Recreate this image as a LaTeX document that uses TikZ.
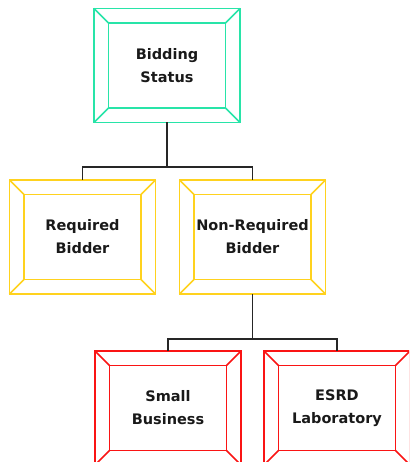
\documentclass[tikz,border=0pt]{standalone}
\usepackage{fontspec}
\setmainfont{DejaVu Sans}
\begin{document}
\begin{tikzpicture}[x=1pt,y=-1pt,
  bx/.style={draw, line width=1.5pt, minimum width=146pt, minimum height=114pt,
    inner sep=0pt, outer sep=0pt, align=center,
    font=\bfseries\fontsize{14.5}{23}\selectfont, text=black!90},
  bl/.style={line width=1.5pt},
  conn/.style={draw=black!85, line width=1.6pt},
]
\definecolor{teal1}{RGB}{40,228,168}
\definecolor{gold1}{RGB}{255,210,30}
\definecolor{red1}{RGB}{250,20,20}
\useasboundingbox (0,0) rectangle (409,462);
\clip (0,0) rectangle (409,462);
\newcommand\bevbox[5]{%
  \node[bx, draw=#5] (#1) at (#2,#3) {#4};
  \draw[bl, #5] ([shift={(14.5,14.5)}]#1.north west) rectangle ([shift={(-14.5,-14.5)}]#1.south east);
  \draw[bl, #5] (#1.north west) -- ([shift={(14.5,14.5)}]#1.north west);
  \draw[bl, #5] (#1.north east) -- ([shift={(-14.5,14.5)}]#1.north east);
  \draw[bl, #5] (#1.south west) -- ([shift={(14.5,-14.5)}]#1.south west);
  \draw[bl, #5] (#1.south east) -- ([shift={(-14.5,-14.5)}]#1.south east);
}
\bevbox{top}{167}{65.5}{Bidding\\Status}{teal1}
\bevbox{req}{82.5}{237}{Required\\Bidder}{gold1}
\bevbox{nonreq}{252.5}{237}{Non-Required\\Bidder}{gold1}
\bevbox{small}{168}{408}{Small\\Business}{red1}
\bevbox{esrd}{337}{408}{ESRD\\Laboratory}{red1}
\coordinate (j1) at (167,167);
\coordinate (j2) at (252.5,339);
\draw[conn] (top.south) -- (j1);
\draw[conn] (req.north) |- (j1) -| (nonreq.north);
\draw[conn] (nonreq.south) -- (j2);
\draw[conn] (small.north) |- (j2) -| (esrd.north);
\end{tikzpicture}
\end{document}
